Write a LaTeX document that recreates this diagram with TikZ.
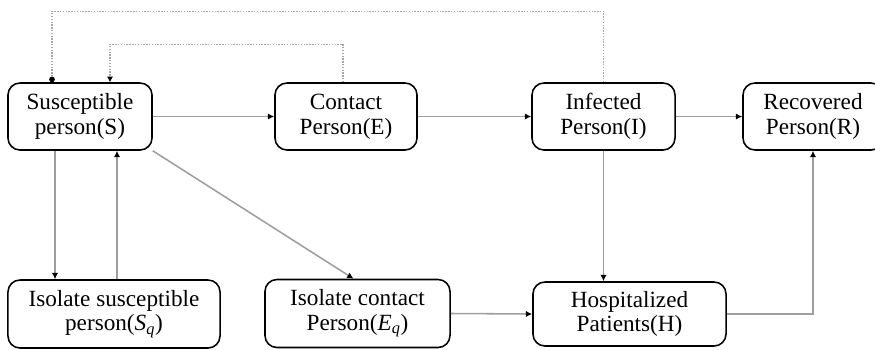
\documentclass[tikz,border=0pt]{standalone}
\usepackage{fontspec}
\setmainfont{Liberation Serif}
\usetikzlibrary{arrows.meta,calc}
\tikzset{
	stage/.style={draw=black,line width=1.1pt,rounded corners=0.3cm,align=center,inner sep=0pt,
		font=\fontsize{16.5}{17.5}\selectfont,minimum height=1.675cm},
	flow/.style={draw=black!38,line width=1.1pt,-{Latex[black,length=4.5pt,width=4.5pt]}},
	back/.style={draw=black!35,line width=1pt,densely dotted,-{Latex[black,length=4pt,width=4.5pt]}}
}
\begin{document}
\begin{tikzpicture}[x=0.025cm,y=-0.025cm]
		\useasboundingbox (0,0) rectangle (875,349);
		\node[stage,minimum width=3.6cm] (S) at (80,116.5) {Susceptible\\person(S)};
		\node[stage,minimum width=3.55cm] (E) at (346,116.5) {Contact\\Person(E)};
		\node[stage,minimum width=3.575cm] (I) at (603.5,116.5) {Infected\\Person(I)};
		\node[stage,minimum width=3.5cm] (R) at (813,116.5) {Recovered\\Person(R)};

		\node[stage,minimum width=5.3cm,minimum height=1.7cm] (Sq) at (114,314) {Isolate susceptible\\person(\textit{S}\textsubscript{\textit{q}})};
		\node[stage,minimum width=4.625cm,minimum height=1.7cm] (Eq) at (357.5,313.5) {Isolate contact\\Person(\textit{E}\textsubscript{\textit{q}})};
		\node[stage,minimum width=4.825cm,minimum height=1.6cm] (H) at (629.5,314) {Hospitalized\\Patients(H)};

		\draw[flow] (S.east) -- (E.west);
		\draw[flow] (E.east) -- (I.west);
		\draw[flow] (I.east) -- (R.west);

		\draw[flow] ($(S.south)+(-25,0)$) coordinate (sd) -- (sd |- Sq.north);
		\draw[flow] ($(Sq.north)+(3,0)$) coordinate (su) -- (su |- S.south);
		\draw[flow] (S.south east) -- ($(Eq.north)+(-4,0)$);
		\draw[flow] (I.south) -- (I.south |- H.north);
		\draw[flow] (Eq.east) -- (H.west);
		\draw[flow] (H.east) -| (R.south);

		\draw[back,-{Circle[black,length=4pt]}] (I.north) -- ++(0,-71) -| ($(S.north)+(-28,0)$);
		\draw[back] ($(E.north)+(-3,0)$) -- ++(0,-38) -| ($(S.north)+(30,0)$);
\end{tikzpicture}
\end{document}
